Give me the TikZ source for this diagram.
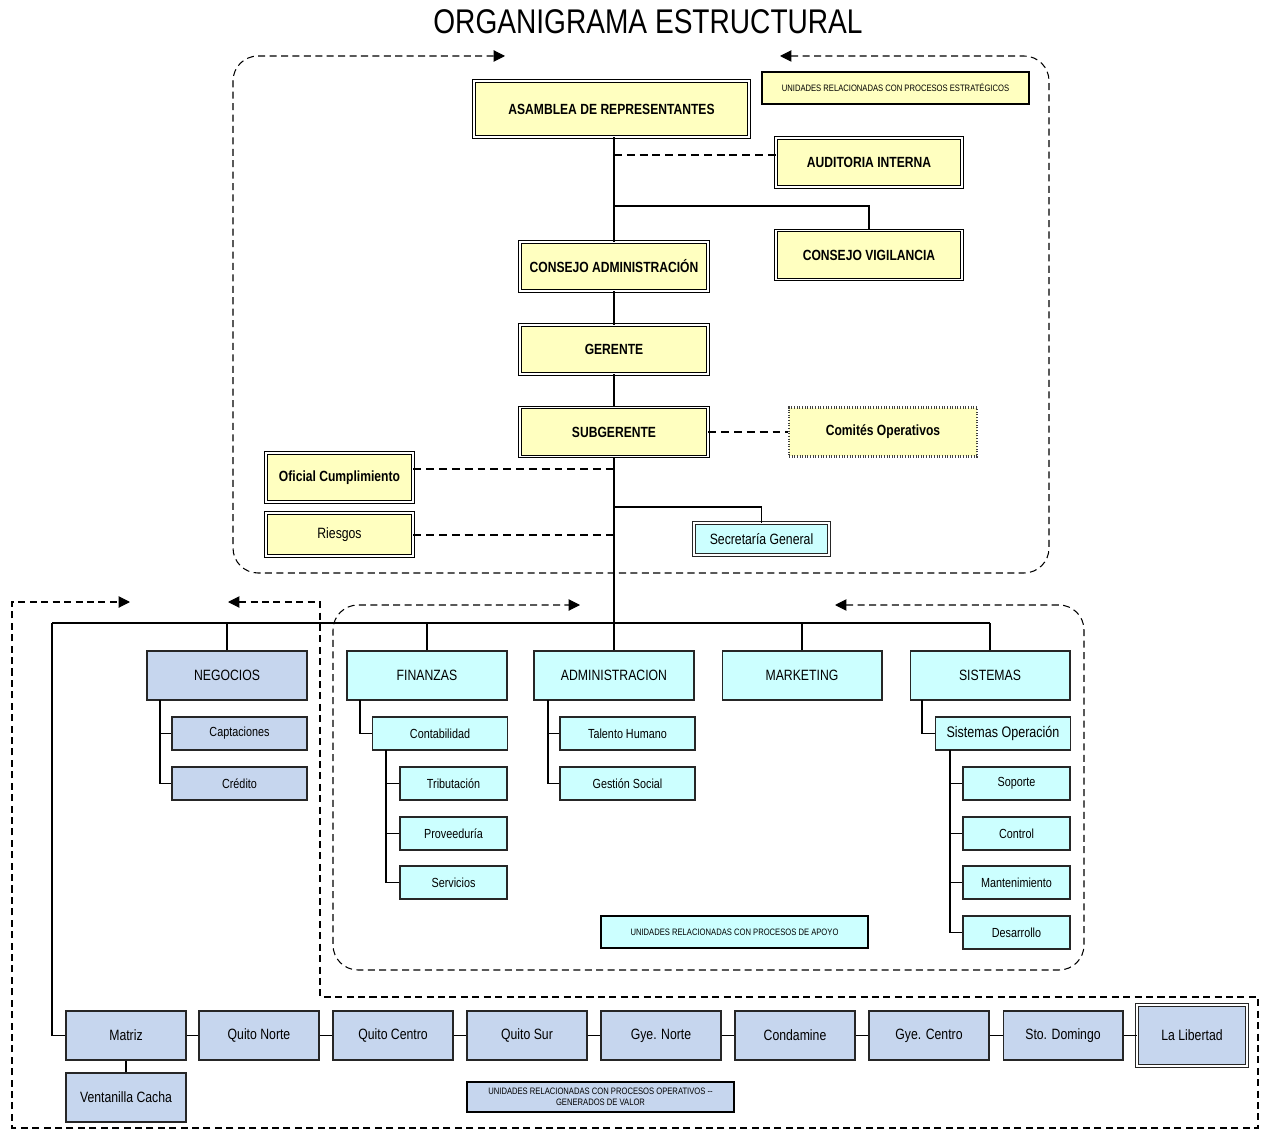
\documentclass[tikz,border=0pt]{standalone}
\usepackage{fontspec}
\newfontfamily\orgfont[FakeStretch=0.82]{Liberation Sans}
\usetikzlibrary{arrows.meta}
\definecolor{amarillo}{HTML}{FFFFC0}
\definecolor{celeste}{HTML}{CCFFFF}
\definecolor{azulgris}{HTML}{C6D6EE}
\tikzset{
        orgnode/.style = {align=center, inner sep=1pt, text centered,
            font=\orgfont\fontsize{8.5}{10}\selectfont},
        org_e/.style = {orgnode, draw=black, fill=amarillo, double=white,
            double distance=0.9pt, line width=0.5pt,
            font=\orgfont\fontsize{8.4}{10}\selectfont\bfseries,
            minimum width=3.76cm, minimum height=0.98cm},
        org_dot/.style = {org_e, double=none, draw=black!75, densely dotted,
            line width=1.3pt},
        org_c/.style = {orgnode, draw=black!85, fill=celeste, line width=0.6pt,
            minimum width=3.2cm, minimum height=0.98cm},
        org_b/.style = {org_c, fill=azulgris, minimum width=2.4cm},
        org_s/.style = {org_c, minimum width=2.7cm, minimum height=0.66cm,
            font=\orgfont\fontsize{7.5}{9}\selectfont},
        org_ss/.style = {org_s, minimum width=2.14cm},
        org_lbl/.style = {orgnode, draw=black, line width=1.5pt,
            font=\orgfont\fontsize{5.3}{6.4}\selectfont,
            minimum width=5.34cm, minimum height=0.64cm},
        link_d/.style = {dash pattern=on 4.5pt off 2.8pt, line width=0.7pt},
        frame_d/.style = {dash pattern=on 4pt off 2.5pt, line width=0.6pt,
            {Triangle[length=6.5pt,width=6.5pt]}-{Triangle[length=6.5pt,width=6.5pt]}}
    }
\begin{document}
\begin{tikzpicture}[x=0.02cm, y=-0.02cm, line width=0.6pt]
\useasboundingbox (0,0) rectangle (1267,1131);
\node [font=\orgfont\fontsize{19.5}{22}\selectfont] (titulo) at (648,22) {ORGANIGRAMA ESTRUCTURAL};

% procesos estrategicos
\node [org_e, minimum width=5.5cm, minimum height=1.12cm] (asamblea) at (611.5,109) {ASAMBLEA DE REPRESENTANTES};
\node [org_lbl, fill=amarillo] (lbl_estr) at (895.5,88) {UNIDADES RELACIONADAS CON PROCESOS ESTRATÉGICOS};
\node [org_e, minimum width=3.72cm] (auditoria) at (869,162.5) {AUDITORIA INTERNA};
\node [org_e, minimum width=3.72cm] (vigilancia) at (869,255) {CONSEJO VIGILANCIA};
\node [org_e] (cadmin) at (614,266.5) {CONSEJO ADMINISTRACIÓN};
\node [org_e] (gerente) at (614,349.5) {GERENTE};
\node [org_e] (subgerente) at (614,432) {SUBGERENTE};
\node [org_dot] (comites) at (883,432) {Comités Operativos};
\node [org_e, minimum width=2.94cm] (oficial) at (339.5,477.5) {Oficial Cumplimiento};
\node [org_e, minimum width=2.94cm, minimum height=0.86cm,
    font=\orgfont\fontsize{8.5}{10}\selectfont] (riesgos) at (339.5,534.5) {Riesgos};
\node [org_c, double=white, double distance=0.9pt, line width=0.5pt,
    minimum width=2.7cm, minimum height=0.64cm] (secretaria) at (761.5,539) {Secretaría General};

\coordinate (j_aud) at (614,155);
\coordinate (j_vig) at (614,206);
\coordinate (j_ofi) at (614,469);
\coordinate (j_sec) at (614,507);
\coordinate (j_rie) at (614,535);
\coordinate (t_bus) at (614,623);
\coordinate (t_busl) at (52,623);
\coordinate (t_busr) at (990,623);

\draw (cadmin.north |- asamblea.south) -- (cadmin.north);
\draw (cadmin.south) -- (gerente.north);
\draw (gerente.south) -- (subgerente.north);
\draw (subgerente.south) -- (t_bus);
\draw [link_d] (j_aud) -- (j_aud -| auditoria.west);
\draw (j_vig) -| (vigilancia.north);
\draw [link_d] (subgerente.east) -- (comites.west);
\draw [link_d] (oficial.east |- j_ofi) -- (j_ofi);
\draw [link_d] (riesgos.east |- j_rie) -- (j_rie);
\draw (j_sec) -| (secretaria.north);

% procesos de apoyo
\node [org_b, minimum width=3.2cm] (negocios) at (227,675.5) {NEGOCIOS};
\node [org_c] (finanzas) at (427,675.5) {FINANZAS};
\node [org_c] (administracion) at (614,675.5) {ADMINISTRACION};
\node [org_c] (marketing) at (802,675.5) {MARKETING};
\node [org_c] (sistemas) at (990,675.5) {SISTEMAS};

\node [org_s, fill=azulgris] (captaciones) at (239.5,733.5) {Captaciones};
\node [org_s, fill=azulgris] (credito) at (239.5,783.5) {Crédito};
\node [org_s] (contabilidad) at (440,733.5) {Contabilidad};
\node [org_ss] (tributacion) at (453.5,783.5) {Tributación};
\node [org_ss] (proveeduria) at (453.5,833.5) {Proveeduría};
\node [org_ss] (servicios) at (453.5,882.5) {Servicios};
\node [org_s] (talento) at (627.5,733.5) {Talento Humano};
\node [org_s] (gestion) at (627.5,783.5) {Gestión Social};
\node [org_s, font=\orgfont\fontsize{8.7}{10}\selectfont] (sisoper) at (1003,733.5) {Sistemas Operación};
\node [org_ss] (soporte) at (1016.5,783.5) {Soporte};
\node [org_ss] (control) at (1016.5,833.5) {Control};
\node [org_ss] (mantenimiento) at (1016.5,882.5) {Mantenimiento};
\node [org_ss] (desarrollo) at (1016.5,932.5) {Desarrollo};
\node [org_lbl, fill=celeste] (lbl_apoyo) at (734.5,932) {UNIDADES RELACIONADAS CON PROCESOS DE APOYO};

\draw (t_busl) -- (t_busr);
\foreach \n in {negocios,finanzas,administracion,marketing,sistemas}
    \draw (\n.north) -- (\n.north |- t_bus);

\coordinate (t_neg) at (160,700);
\coordinate (t_fin) at (360,700);
\coordinate (t_con) at (386,750);
\coordinate (t_adm) at (548,700);
\coordinate (t_sis) at (922,700);
\coordinate (t_sop) at (950,750);
\foreach \n in {captaciones,credito} \draw (t_neg) |- (\n.west);
\draw (t_fin) |- (contabilidad.west);
\foreach \n in {tributacion,proveeduria,servicios} \draw (t_con) |- (\n.west);
\foreach \n in {talento,gestion} \draw (t_adm) |- (\n.west);
\draw (t_sis) |- (sisoper.west);
\foreach \n in {soporte,control,mantenimiento,desarrollo} \draw (t_sop) |- (\n.west);

% procesos operativos
\node [org_b] (matriz) at (126,1035.5) {Matriz};
\node [org_b] (quitonorte) at (259,1035.5) {Quito Norte};
\node [org_b] (quitocentro) at (393,1035.5) {Quito Centro};
\node [org_b] (quitosur) at (527,1035.5) {Quito Sur};
\node [org_b] (gyenorte) at (661,1035.5) {Gye. Norte};
\node [org_b] (condamine) at (795,1035.5) {Condamine};
\node [org_b] (gyecentro) at (929,1035.5) {Gye. Centro};
\node [org_b] (stodomingo) at (1063,1035.5) {Sto. Domingo};
\node [org_b, double=white, double distance=0.9pt, line width=0.5pt,
    minimum width=2.2cm, minimum height=1.22cm] (libertad) at (1192,1035.5) {La Libertad};
\node [org_b] (ventanilla) at (126,1097.5) {Ventanilla Cacha};
\node [org_lbl, fill=azulgris, minimum height=0.6cm] (lbl_oper) at (600.5,1097)
    {UNIDADES RELACIONADAS CON PROCESOS OPERATIVOS --\\GENERADOS DE VALOR};

\draw (t_busl) |- (matriz.west);
\foreach \a/\b in {matriz/quitonorte,quitonorte/quitocentro,quitocentro/quitosur,
    quitosur/gyenorte,gyenorte/condamine,condamine/gyecentro,
    gyecentro/stodomingo,stodomingo/libertad}
    \draw (\a.east) -- (\b.west);
\draw (matriz.south) -- (ventanilla.north);

% marcos
\draw [frame_d, rounded corners=0.5cm] (780,56) -- (1049,56) -- (1049,573) -- (233,573) -- (233,56) -- (505,56);
\draw [frame_d, rounded corners=0.5cm] (835,605) -- (1084,605) -- (1084,970) -- (333,970) -- (333,605) -- (580,605);
\draw [frame_d] (228,602) -- (320,602) -- (320,997) -- (1258,997) -- (1258,1128) -- (12,1128) -- (12,602) -- (130,602);
\end{tikzpicture}
\end{document}
